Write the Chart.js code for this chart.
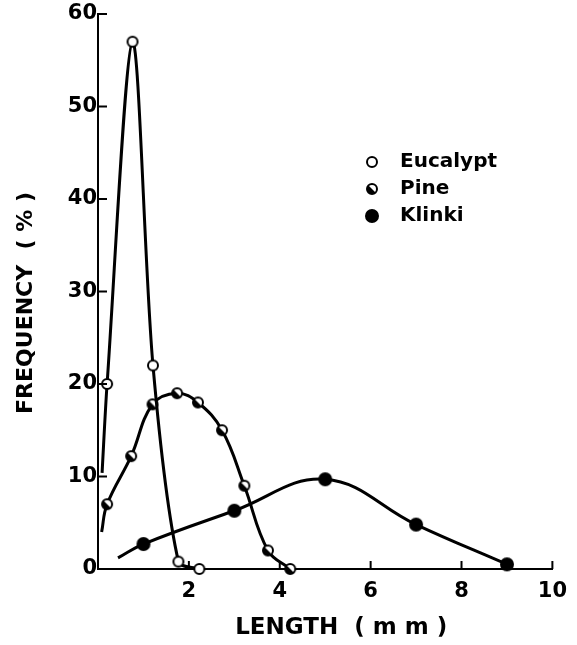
<!DOCTYPE html>
<html>
<head>
<meta charset="utf-8">
<script src="https://cdn.jsdelivr.net/npm/chart.js@4/dist/chart.umd.min.js"></script>
<style>
  html, body { margin: 0; padding: 0; background: #fff; }
  canvas { display: block; }
</style>
</head>
<body>
<canvas id="fibreChart" width="577" height="645"></canvas>
<script>
// Fibre length distributions (first point of each is the line start, no marker)
const eucalyptLength = [0.09, 0.2, 0.76, 1.21, 1.77, 2.23];
const eucalyptFreq   = [10.4, 20, 57, 22, 0.8, 0];

const pineLength = [0.08, 0.2, 0.73, 1.2, 1.74, 2.2, 2.73, 3.22, 3.74, 4.23];
const pineFreq   = [4, 7, 12.2, 17.8, 19, 18, 15, 9, 2, 0];

const klinkiLength = [0.44, 1, 3, 5, 7, 9];
const klinkiFreq   = [1.2, 2.7, 6.3, 9.7, 4.8, 0.5];

const xTicks = [2, 4, 6, 8, 10];
const yTicks = [0, 10, 20, 30, 40, 50, 60];

const FONT = '"DejaVu Sans", sans-serif';

// marker images
function makeMarker(kind, r) {
    const size = r * 2 + 4;
    const c = document.createElement('canvas');
    c.width = size; c.height = size;
    const g = c.getContext('2d');
    const m = size / 2;
    g.beginPath();
    g.arc(m, m, r, 0, Math.PI * 2);
    g.fillStyle = kind === 'full' ? '#000' : '#fff';
    g.fill();
    if (kind === 'half') {
        g.beginPath();
        g.arc(m, m, r, Math.PI * 0.25, Math.PI * 1.25);
        g.closePath();
        g.fillStyle = '#000';
        g.fill();
    }
    g.lineWidth = 2;
    g.strokeStyle = '#000';
    g.beginPath();
    g.arc(m, m, r, 0, Math.PI * 2);
    g.stroke();
    return c;
}

const openMark = makeMarker('open', 5);
const halfMark = makeMarker('half', 5);
const fullMark = makeMarker('full', 6);

function toPoints(xs, ys) {
    return xs.map((x, i) => ({ x: x, y: ys[i] }));
}

function markerRadii(n) {
    return Array.from({ length: n }, (_, i) => (i === 0 ? 0 : 6));
}

function series(label, xs, ys, mark, tension) {
    return {
        label: label,
        data: toPoints(xs, ys),
        borderColor: '#000',
        borderWidth: 3,
        pointStyle: mark,
        pointRadius: markerRadii(xs.length),
        tension: tension,
        clip: false,
        fill: false
    };
}

// short tick marks pointing into the plot
const innerTicks = {
    id: 'innerTicks',
    afterDraw(chart) {
        const ctx = chart.ctx;
        const xs = chart.scales.x, ys = chart.scales.y;
        ctx.save();
        ctx.strokeStyle = '#000';
        ctx.lineWidth = 2;
        ctx.beginPath();
        xTicks.forEach(v => {
            const px = xs.getPixelForValue(v);
            ctx.moveTo(px, ys.bottom);
            ctx.lineTo(px, ys.bottom - 8);
        });
        yTicks.forEach(v => {
            const py = ys.getPixelForValue(v);
            ctx.moveTo(xs.left, py);
            ctx.lineTo(xs.left + 9, py);
        });
        ctx.stroke();
        ctx.restore();
    }
};

// legend drawn inside the plot area
const insetLegend = {
    id: 'insetLegend',
    afterDraw(chart) {
        const ctx = chart.ctx;
        const rows = [
            { text: 'Eucalypt', mark: openMark },
            { text: 'Pine', mark: halfMark },
            { text: 'Klinki', mark: fullMark }
        ];
        ctx.save();
        ctx.font = 'bold 20px ' + FONT;
        ctx.fillStyle = '#000';
        ctx.textBaseline = 'middle';
        rows.forEach((row, i) => {
            const y = 162 + i * 27;
            ctx.drawImage(row.mark, 372 - row.mark.width / 2, y - row.mark.height / 2);
            ctx.fillText(row.text, 400, y);
        });
        ctx.restore();
    }
};

const ctx = document.getElementById('fibreChart').getContext('2d');
new Chart(ctx, {
    type: 'line',
    data: {
        datasets: [
            series('Eucalypt', eucalyptLength, eucalyptFreq, openMark, 0.3),
            series('Pine', pineLength, pineFreq, halfMark, 0.4),
            series('Klinki', klinkiLength, klinkiFreq, fullMark, 0.4)
        ]
    },
    options: {
        responsive: false,
        animation: false,
        layout: { padding: { top: 14, right: 19, bottom: 3, left: 0 } },
        plugins: {
            legend: { display: false },
            tooltip: { enabled: false }
        },
        scales: {
            x: {
                type: 'linear',
                min: 0,
                max: 10,
                afterFit: (s) => { s.height = 645 - 569 - 3; },
                afterBuildTicks: (s) => { s.ticks = xTicks.map(v => ({ value: v })); },
                grid: { display: false, drawTicks: false },
                border: { display: true, color: '#000', width: 2 },
                ticks: {
                    color: '#000',
                    padding: 10,
                    font: { family: FONT, size: 21, weight: 'bold' }
                },
                title: {
                    display: true,
                    text: '    LENGTH  ( m m )',
                    color: '#000',
                    padding: { top: 0, bottom: 0 },
                    font: { family: FONT, size: 23, weight: 'bold' }
                }
            },
            y: {
                min: 0,
                max: 60,
                afterFit: (s) => { s.width = 98; },
                afterBuildTicks: (s) => { s.ticks = yTicks.map(v => ({ value: v })); },
                grid: { display: false, drawTicks: false },
                border: { display: true, color: '#000', width: 2 },
                ticks: {
                    color: '#000',
                    padding: 1,
                    font: { family: FONT, size: 21, weight: 'bold' }
                },
                title: {
                    display: true,
                    text: 'FREQUENCY  ( % )   ',
                    color: '#000',
                    padding: { top: 13, bottom: 0 },
                    font: { family: FONT, size: 22, weight: 'bold' }
                }
            }
        }
    },
    plugins: [innerTicks, insetLegend]
});
</script>
</body>
</html>
